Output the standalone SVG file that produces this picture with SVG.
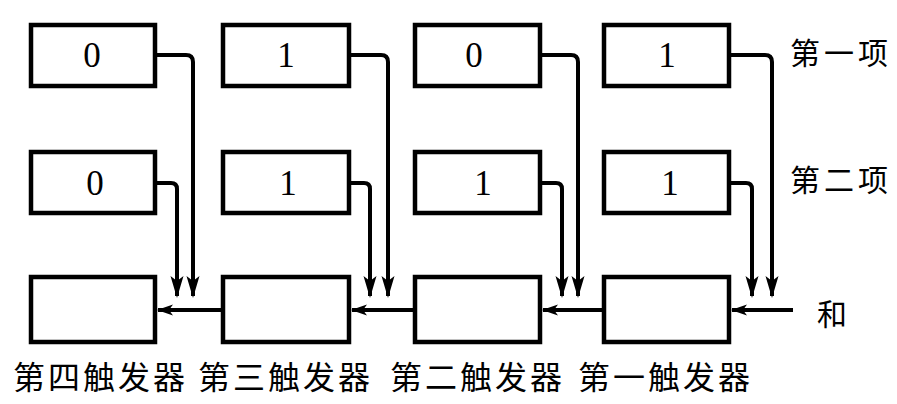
<svg xmlns="http://www.w3.org/2000/svg" width="897" height="404" viewBox="0 0 897 404">
<defs>
<style>
.box{fill:#fff;stroke:#000;stroke-width:4.5}
.digit{font-family:"Liberation Serif",serif;font-size:35px;text-anchor:middle;fill:#000}
.lbl{font-family:"Noto Sans CJK SC",sans-serif;font-size:30px;fill:#000}
.bot{font-family:"Noto Sans CJK SC",sans-serif;font-size:32px;fill:#000;letter-spacing:3px}
.wire{fill:none;stroke:#000;stroke-width:4;stroke-linejoin:round}
</style>
<marker id="ad" markerUnits="userSpaceOnUse" markerWidth="22" markerHeight="13" viewBox="0 0 22 13" refX="20" refY="6.5" orient="auto" overflow="visible">
<path d="M0,0 L22,6.5 L0,13 L5,6.5 z" fill="#000"/>
</marker>
<marker id="ah" markerUnits="userSpaceOnUse" markerWidth="16" markerHeight="11" viewBox="0 0 16 11" refX="15" refY="5.5" orient="auto" overflow="visible">
<path d="M0,0 L16,5.5 L0,11 L4,5.5 z" fill="#000"/>
</marker>
</defs>
<g id="connectors">
<path class="wire" marker-end="url(#ad)" d="M157,55 H186 Q193,55 193,62 V296"/>
<path class="wire" marker-end="url(#ad)" d="M157,183 H171 Q177,183 177,189 V296"/>
<path class="wire" marker-end="url(#ad)" d="M351,55 H381 Q388,55 388,62 V296"/>
<path class="wire" marker-end="url(#ad)" d="M351,183 H364 Q370,183 370,189 V296"/>
<path class="wire" marker-end="url(#ad)" d="M542,55 H571 Q578,55 578,62 V296"/>
<path class="wire" marker-end="url(#ad)" d="M542,183 H556 Q562,183 562,189 V296"/>
<path class="wire" marker-end="url(#ad)" d="M731,55 H765 Q772,55 772,62 V296"/>
<path class="wire" marker-end="url(#ad)" d="M731,183 H746 Q752,183 752,189 V296"/>
<path class="wire" marker-end="url(#ah)" d="M221,310 H158"/>
<path class="wire" marker-end="url(#ah)" d="M413,310 H352"/>
<path class="wire" marker-end="url(#ah)" d="M602,310 H543"/>
<path class="wire" marker-end="url(#ah)" d="M793,310 H732"/>
</g>
<g id="a4"><rect class="box" x="31" y="25" width="124" height="61"/><text class="digit" x="92" y="67">0</text></g>
<g id="a3"><rect class="box" x="223" y="25" width="126" height="61"/><text class="digit" x="286" y="67">1</text></g>
<g id="a2"><rect class="box" x="415" y="25" width="125" height="61"/><text class="digit" x="474" y="67">0</text></g>
<g id="a1"><rect class="box" x="604" y="25" width="125" height="61"/><text class="digit" x="667" y="67">1</text></g>
<g id="b4"><rect class="box" x="31" y="152" width="124" height="61"/><text class="digit" x="95" y="195">0</text></g>
<g id="b3"><rect class="box" x="223" y="152" width="126" height="61"/><text class="digit" x="288" y="195">1</text></g>
<g id="b2"><rect class="box" x="415" y="152" width="125" height="61"/><text class="digit" x="483" y="195">1</text></g>
<g id="b1"><rect class="box" x="604" y="152" width="125" height="61"/><text class="digit" x="670" y="195">1</text></g>
<g id="f4"><rect class="box" x="31" y="277" width="124" height="65"/></g>
<g id="f3"><rect class="box" x="223" y="277" width="126" height="65"/></g>
<g id="f2"><rect class="box" x="415" y="277" width="125" height="65"/></g>
<g id="f1"><rect class="box" x="604" y="277" width="125" height="65"/></g>
<g id="labels">
<text class="lbl" x="790" y="64" letter-spacing="4">第一项</text>
<text class="lbl" x="790" y="191" letter-spacing="4">第二项</text>
<text class="lbl" x="817" y="325">和</text>
<text class="bot" x="13" y="389">第四触发器</text>
<text class="bot" x="198" y="389">第三触发器</text>
<text class="bot" x="390" y="389">第二触发器</text>
<text class="bot" x="578" y="389">第一触发器</text>
</g>
</svg>
